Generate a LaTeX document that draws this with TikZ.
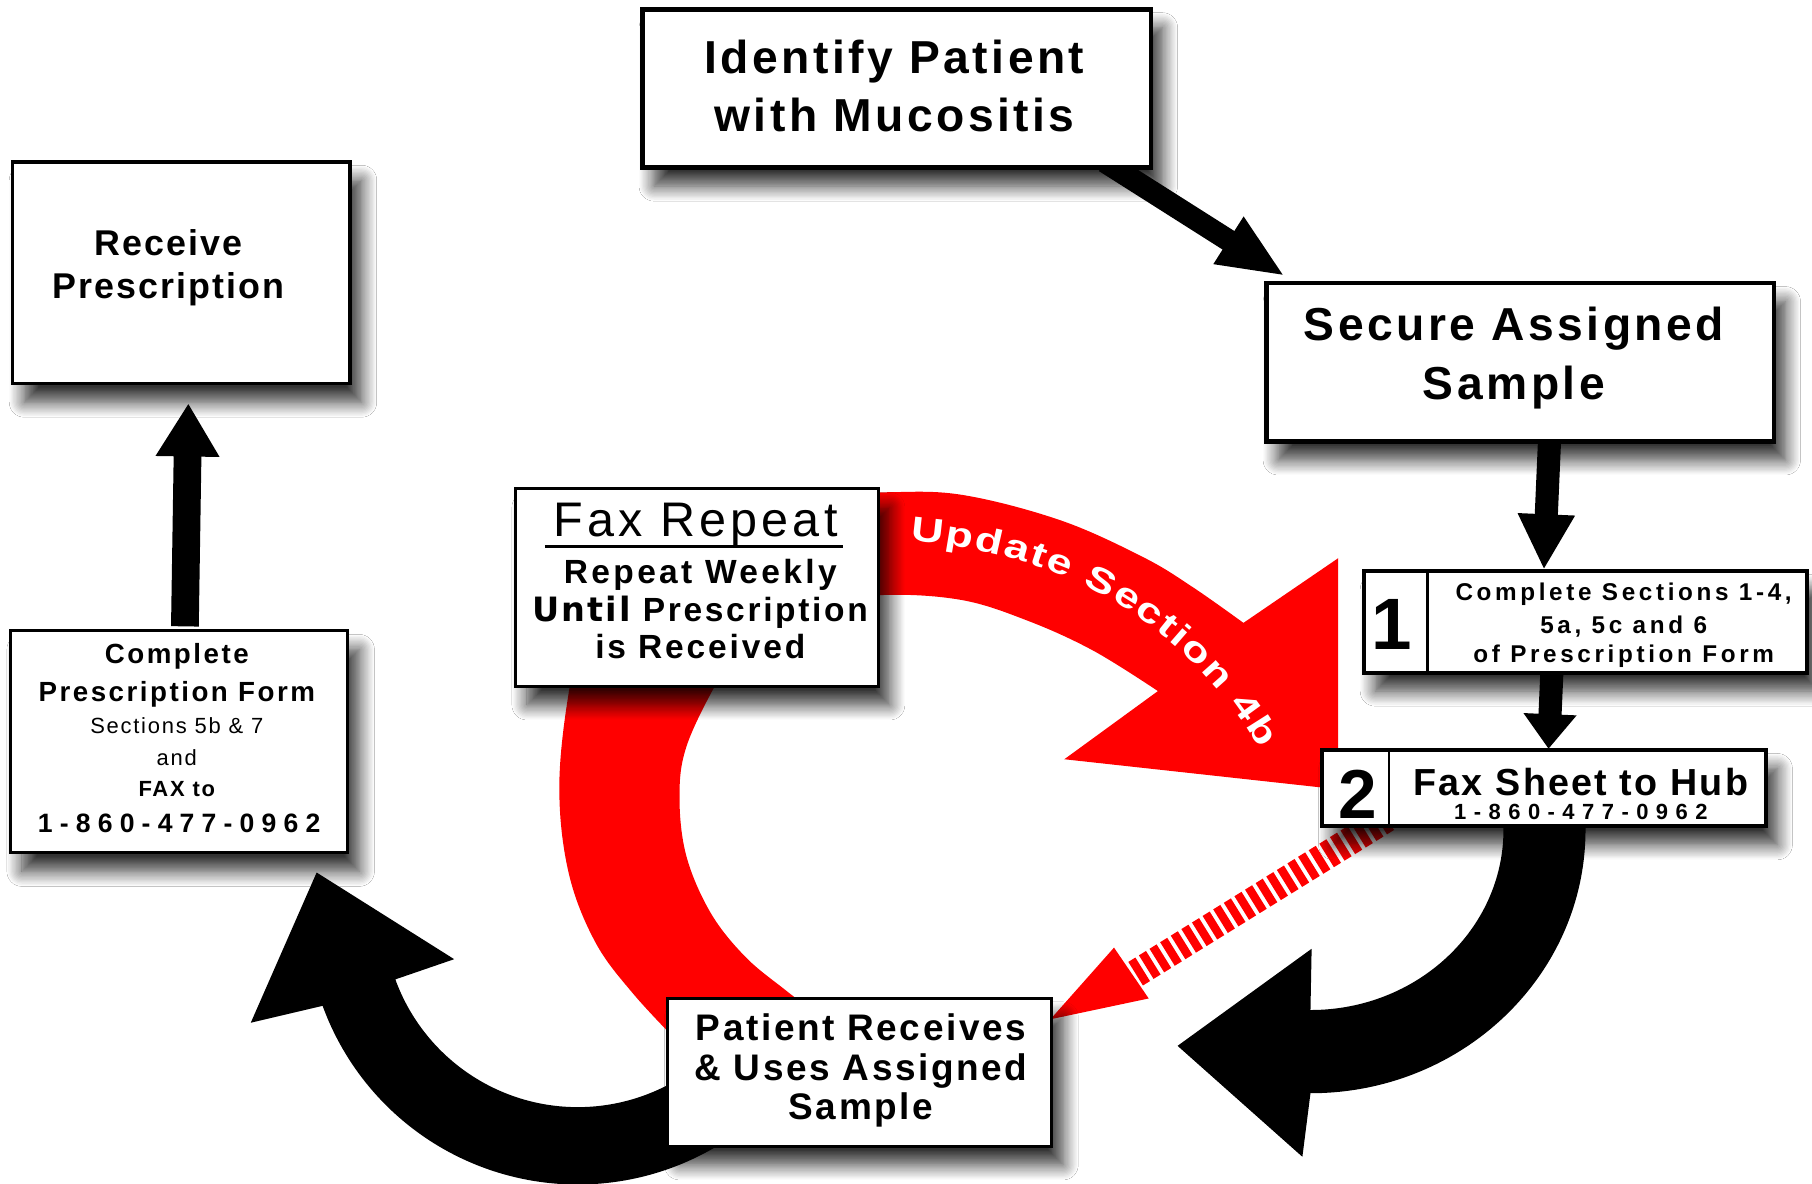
\documentclass[tikz,border=0pt]{standalone}
\usepackage{fontspec}
\setmainfont{Liberation Sans}
\newfontfamily\heavyfont{DejaVu Sans}
\newfontfamily\widefont[FakeStretch=1.3]{Liberation Sans}
\usetikzlibrary{arrows.meta,calc,decorations.text,shadows.blur}
\newcommand\mybf[2]{\fontsize{#1}{#1}\selectfont\bfseries\addfontfeature{LetterSpace=#2}}
\newcommand\myrg[2]{\fontsize{#1}{#1}\selectfont\mdseries\addfontfeature{LetterSpace=#2}}
\newcommand\updfont{\color{white}\widefont\bfseries\fontsize{15}{15}\selectfont}
\begin{document}
\begin{tikzpicture}[x=0.5pt,y=-0.5pt,
  slot/.style={inner sep=0pt, outer sep=0pt},
  boxdraw/.style={draw=black, fill=white,
    blur shadow={shadow xshift=5pt, shadow yshift=-8pt, shadow blur radius=6.5pt, shadow blur steps=12, shadow opacity=80}},
  txt/.style={anchor=base, inner sep=0pt, outer sep=0pt},
  blkarrow/.style={draw=black},
]
\fill[white] (0,0) rectangle (1568,1024);
\useasboundingbox (0,0) rectangle (1568,1024);

% ---------- box places (named) ----------
\path node[slot, minimum width=220pt, minimum height=68.5pt] (idbox) at (776,76.5) {}
      node[slot, minimum width=219.5pt, minimum height=68.5pt] (sec) at (1315.5,313.5) {}
      node[slot, minimum width=146pt, minimum height=96pt] (rcv) at (157,236) {}
      node[slot, minimum width=146pt, minimum height=96pt] (cpf) at (155,642) {}
      node[slot, minimum width=157pt, minimum height=85.5pt] (fax) at (603,508.5) {}
      node[slot, minimum width=192pt, minimum height=44pt] (b1) at (1372,538) {}
      node[slot, minimum width=192pt, minimum height=33pt] (b2) at (1336,682) {}
      node[slot, minimum width=166pt, minimum height=64pt] (pat) at (744,928) {};

% ---------- red circular arrow ----------
\fill[red] plot[smooth, tension=0.6] coordinates {(590,905) (548,860) (515,815) (492,755) (484,680) (493,594) (512,510) (580,450) (680,428) (761,426) (831,428) (917,450) (989,482) (1032,508) (1076,539)}
  -- (1158,483) -- (1158,683) -- (921,657) -- (1002,598)
  -- plot[smooth, tension=0.6] coordinates {(1002,598) (946,563) (889,537) (831,519) (761,515) (690,525) (645,552) (620,591) (594,646) (588,690) (594,741) (615,790) (645,828) (680,857) (710,880)} -- cycle;
\path[decorate, decoration={text along path, text align=fit to path,
  text={|\updfont|Update Section 4b}}]
  (788,468) .. controls (910,478) and (1020,530) .. (1090,648);

% ---------- black curved arrow from box 2 ----------
\fill[black] (1372,700) -- (1372,718) arc[start angle=0, end angle=90, x radius=238, y radius=228]
  -- (1127,1001) -- (1019,905) -- (1135,821) -- (1134,874)
  arc[start angle=90, end angle=0, x radius=167, y radius=156] -- (1301,700) -- cycle;

% ---------- black curved arrow to prescription form ----------
\fill[black] (634.8,982.5) arc[start angle=55, end angle=160, radius=235]
  -- (217,885) -- (274,755) -- (393,830) -- (342.1,847.5)
  arc[start angle=160, end angle=55, radius=168] -- cycle;

% ---------- red striped arrow ----------
\draw[red, line width=12pt, dash pattern=on 3.6pt off 1.8pt] ($(b2.south west)+(56,-7)$) -- (982,843);
\fill[red] (964,820) -- (909,882) -- (994,864) -- cycle;

% ---------- straight arrows ----------
\draw[blkarrow, line width=9.5pt, -{Triangle[length=29pt,width=22pt]}]
  ($(idbox.south west)+(400,-5)$) -- ($(sec.north west)+(16,-6)$);
\draw[blkarrow, line width=10pt, -{Triangle[length=24pt,width=23pt]}]
  ($(sec.south)+(25.5,-4)$) -- ($(b1.north)+(-36,-1)$);
\draw[blkarrow, line width=10pt, -{Triangle[length=15pt,width=22pt]}]
  ($(b1.south)+(-29,-3)$) -- ($(b2.north)+(4,-1)$);
\draw[blkarrow, line width=12pt, -{Triangle[length=23pt,width=26pt]}]
  ($(cpf.north)+(5,-4)$) -- ($(rcv.south)+(6,17)$);

% ---------- boxes drawn over the arrows ----------
\path[boxdraw, line width=2pt] (idbox.south west) rectangle (idbox.north east);
\path[boxdraw, line width=2pt] (sec.south west) rectangle (sec.north east);
\path[boxdraw, line width=1.5pt] (rcv.south west) rectangle (rcv.north east);
\path[boxdraw, line width=1.3pt] (cpf.south west) rectangle (cpf.north east);
\path[boxdraw, line width=1.3pt] (fax.south west) rectangle (fax.north east);
\path[boxdraw, line width=1.8pt] (b1.south west) rectangle (b1.north east);
\path[boxdraw, line width=1.8pt] (b2.south west) rectangle (b2.north east);
\path[boxdraw, line width=1.3pt] (pat.south west) rectangle (pat.north east);
\draw[line width=1.2pt] ($(b1.north west)+(55,0)$) -- ($(b1.south west)+(55,0)$);
\draw[line width=1.2pt] ($(b2.north west)+(58,0)$) -- ($(b2.south west)+(58,0)$);

% ---------- texts ----------
\node[txt, font=\mybf{20}{7.5}] (t1) at (774,63.6) {Identify Patient};
\node[txt, font=\mybf{20}{7.5}] (t2) at (774,114) {with Mucositis};
\node[txt, font=\mybf{20}{7.5}] (t3) at (1310,294.7) {Secure Assigned};
\node[txt, font=\mybf{20}{7.5}] (t4) at (1310,346) {Sample};
\node[txt, font=\mybf{15.5}{5.8}] (t5) at (146,221) {Receive};
\node[txt, font=\mybf{15.5}{5.8}] (t6) at (146,258.3) {Prescription};
\node[txt, font=\mybf{12}{9}] (t7) at (153,574) {Complete};
\node[txt, font=\mybf{12}{9}] (t8) at (153,607) {Prescription Form};
\node[txt, font=\myrg{9.5}{8}] (t9) at (153,635) {Sections 5b \& 7};
\node[txt, font=\myrg{9.5}{8}] (t10) at (153,662) {and};
\node[txt, font=\mybf{9.5}{8}] (t11) at (153,689) {FAX to};
\node[txt, font=\mybf{11.5}{27}] (t12) at (155,720) {1-860-477-0962};
\node[txt, font=\myrg{21}{8.5}] (t13) at (602,464.5) {Fax Repeat};
\draw[line width=1.5pt] (471.5,473) -- (729.5,473);
\node[txt, font=\mybf{14.5}{10}] (t14) at (606,505) {Repeat Weekly};
\node[txt, font=\mybf{14.5}{8}] (t15) at (606,538) {{\heavyfont\bfseries\addfontfeature{LetterSpace=6}Until} Prescription};
\node[txt, font=\mybf{14.5}{8.5}] (t16) at (606,569.5) {is Received};
\node[txt, font=\mybf{31.5}{0}] (n1) at (1204.5,562) {1};
\node[txt, font=\mybf{10.5}{15}] (t17) at (1405,520) {Complete Sections 1-4,};
\node[txt, font=\mybf{10.5}{15}] (t18) at (1405,548) {5a, 5c and 6};
\node[txt, font=\mybf{10.5}{15}] (t19) at (1405,573) {of Prescription Form};
\node[txt, font=\mybf{30}{0}] (n2) at (1175,708) {2};
\node[txt, font=\mybf{16.3}{6}] (t20) at (1368,688.5) {Fax Sheet to Hub};
\node[txt, font=\mybf{9.5}{34}] (t21) at (1368,709) {1-860-477-0962};
\node[txt, font=\mybf{16}{7}] (t22) at (745,900) {Patient Receives};
\node[txt, font=\mybf{16}{7}] (t23) at (745,934.6) {\& Uses Assigned};
\node[txt, font=\mybf{16}{7}] (t24) at (745,969) {Sample};
\end{tikzpicture}
\end{document}
